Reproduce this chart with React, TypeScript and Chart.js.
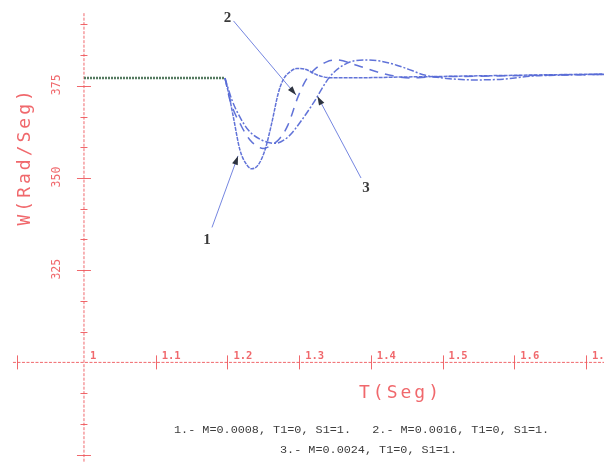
import React, { useEffect, useRef } from 'react';
import { Chart, registerables } from 'chart.js';

Chart.register(...registerables);

// ---- scale window (data units) ----
const X_MIN = 0.8829;
const X_MAX = 1.7251;
const Y_MIN = 272.99;
const Y_MAX = 398.27;
const AXIS_CROSS_T = 1;
const AXIS_CROSS_W = 300;

// ---- ticks ----
const xTickValues = [1.1, 1.2, 1.3, 1.4, 1.5, 1.6, 1.7];
const xTickLabels = ['1', '1.1', '1.2', '1.3', '1.4', '1.5', '1.6', '1.7'];
const xLabelValues = [1, 1.1, 1.2, 1.3, 1.4, 1.5, 1.6, 1.7];
const yMajorTicks = [275, 325, 350, 375];
const yMinorTicks = [283.33, 291.67, 308.33, 316.67, 333.33, 341.67, 358.33, 366.67, 383.33, 391.67];
const yLabelValues = [325, 350, 375];
const yTickLabels = ['325', '350', '375'];

// ---- series ----
const preT = [1.0, 1.1966];
const preW = [377.1, 377.1];

const t1 = [1.1966, 1.2022, 1.2082, 1.2175, 1.2269, 1.2338, 1.2431, 1.2524, 1.2617, 1.2709, 1.2779, 1.2873, 1.2966, 1.3082, 1.3245, 1.343, 1.38, 1.45, 1.55, 1.65, 1.725];
const w1 = [377.1, 372.5, 366.6, 357.6, 353.6, 352.5, 353.6, 357.6, 364.8, 373.0, 376.7, 378.8, 379.7, 379.5, 378.0, 377.2, 377.2, 377.4, 377.7, 378.0, 378.2];

const t2 = [1.1966, 1.2036, 1.2199, 1.2315, 1.2426, 1.2496, 1.2594, 1.2733, 1.2845, 1.2984, 1.3096, 1.3207, 1.3384, 1.3524, 1.3802, 1.4081, 1.4309, 1.4546, 1.4825, 1.55, 1.65, 1.725];
const w2 = [377.1, 371.1, 363.9, 360.3, 358.5, 358.0, 358.7, 360.8, 364.4, 372.0, 376.6, 379.3, 381.5, 382.0, 380.6, 378.8, 377.7, 377.1, 377.4, 377.6, 377.9, 378.1];

const t3 = [1.1966, 1.2064, 1.2175, 1.2291, 1.2478, 1.2663, 1.2849, 1.3036, 1.3197, 1.343, 1.3663, 1.3895, 1.4128, 1.436, 1.4592, 1.4731, 1.5058, 1.5452, 1.5843, 1.6219, 1.6637, 1.7251];
const w3 = [377.1, 371.1, 366.5, 363.0, 360.3, 359.4, 361.2, 365.7, 370.3, 377.5, 381.1, 382.0, 381.7, 380.6, 379.0, 378.0, 377.0, 376.6, 376.8, 377.6, 377.9, 378.1];

// ---- annotations (data coordinates) ----
const calloutLabels = ['1', '2', '3'];
const calloutTextAt = [[1.1715, 333.2], [1.2002, 393.4], [1.3933, 347.3]];
const calloutFrom = [[1.1785, 336.6], [1.2085, 392.6], [1.3863, 350.0]];
const calloutTip = [[1.2148, 356.0], [1.2957, 372.5], [1.3255, 372.2]];

const legendLine1 = '1.- M=0.0008, T1=0, S1=1.   2.- M=0.0016, T1=0, S1=1.';
const legendLine2 = '3.- M=0.0024, T1=0, S1=1.';
const xTitle = 'T(Seg)';
const yTitle = 'W(Rad/Seg)';

const RED = 'rgba(238, 88, 92, 0.9)';
const BLUE = 'rgba(88, 108, 214, 0.95)';

const zip = (t: number[], w: number[]) => t.map((v, i) => ({ x: v, y: w[i] }));

const decorPlugin = {
  id: 'decor',
  beforeDatasetsDraw(chart: any) {
    const { ctx } = chart;
    const xs = chart.scales.x;
    const ys = chart.scales.y;
    const ax = xs.getPixelForValue(AXIS_CROSS_T);
    const ay = ys.getPixelForValue(AXIS_CROSS_W);
    ctx.save();
    ctx.strokeStyle = RED;
    ctx.lineWidth = 1;
    ctx.setLineDash([3, 1.5]);
    ctx.beginPath();
    ctx.moveTo(xs.getPixelForValue(0.901), ay);
    ctx.lineTo(xs.getPixelForValue(X_MAX), ay);
    ctx.stroke();
    ctx.beginPath();
    ctx.moveTo(ax, ys.getPixelForValue(394.7));
    ctx.lineTo(ax, ys.getPixelForValue(Y_MIN));
    ctx.stroke();
    ctx.setLineDash([]);
    [0.9066, ...xTickValues].forEach((v) => {
      const px = Math.round(xs.getPixelForValue(v)) + 0.5;
      ctx.beginPath();
      ctx.moveTo(px, ay - 7);
      ctx.lineTo(px, ay + 7);
      ctx.stroke();
    });
    yMajorTicks.forEach((v) => {
      const py = Math.round(ys.getPixelForValue(v)) + 0.5;
      ctx.beginPath();
      ctx.moveTo(ax - 7, py);
      ctx.lineTo(ax + 7, py);
      ctx.stroke();
    });
    yMinorTicks.forEach((v) => {
      const py = Math.round(ys.getPixelForValue(v)) + 0.5;
      ctx.beginPath();
      ctx.moveTo(ax - 3.5, py);
      ctx.lineTo(ax + 3.5, py);
      ctx.stroke();
    });
    ctx.fillStyle = RED;
    ctx.font = 'bold 10.5px "DejaVu Sans Mono"';
    ctx.textAlign = 'left';
    ctx.textBaseline = 'alphabetic';
    xLabelValues.forEach((v, i) => {
      ctx.fillText(xTickLabels[i], xs.getPixelForValue(v) + 6, ay - 3);
    });
    ctx.font = '11.5px "DejaVu Sans Mono"';
    ctx.textAlign = 'center';
    ctx.textBaseline = 'middle';
    yLabelValues.forEach((v, i) => {
      ctx.save();
      ctx.translate(ax - 27, ys.getPixelForValue(v) - 1);
      ctx.rotate(-Math.PI / 2);
      ctx.fillText(yTickLabels[i], 0, 0);
      ctx.restore();
    });
    ctx.font = '18px "DejaVu Sans Mono"';
    (ctx as any).letterSpacing = '3px';
    ctx.fillText(xTitle, xs.getPixelForValue(1.44) + 1, ay + 31);
    ctx.save();
    ctx.translate(ax - 59, ys.getPixelForValue(355.6));
    ctx.rotate(-Math.PI / 2);
    ctx.fillText(yTitle, 1, 0);
    ctx.restore();
    (ctx as any).letterSpacing = '0px';
    ctx.restore();
  },
  afterDatasetsDraw(chart: any) {
    const { ctx } = chart;
    const xs = chart.scales.x;
    const ys = chart.scales.y;
    ctx.save();
    calloutLabels.forEach((lab, i) => {
      const fx = xs.getPixelForValue(calloutFrom[i][0]);
      const fy = ys.getPixelForValue(calloutFrom[i][1]);
      const tx = xs.getPixelForValue(calloutTip[i][0]);
      const ty = ys.getPixelForValue(calloutTip[i][1]);
      ctx.strokeStyle = 'rgba(110, 128, 222, 0.95)';
      ctx.lineWidth = 1;
      ctx.beginPath();
      ctx.moveTo(fx, fy);
      ctx.lineTo(tx, ty);
      ctx.stroke();
      const ang = Math.atan2(ty - fy, tx - fx);
      const len = 9;
      const half = 3;
      ctx.fillStyle = '#2e3440';
      ctx.beginPath();
      ctx.moveTo(tx, ty);
      ctx.lineTo(tx - len * Math.cos(ang) + half * Math.sin(ang), ty - len * Math.sin(ang) - half * Math.cos(ang));
      ctx.lineTo(tx - len * Math.cos(ang) - half * Math.sin(ang), ty - len * Math.sin(ang) + half * Math.cos(ang));
      ctx.closePath();
      ctx.fill();
      ctx.fillStyle = '#3a3a3a';
      ctx.font = 'bold 15px "Liberation Serif"';
      ctx.textAlign = 'center';
      ctx.textBaseline = 'middle';
      ctx.fillText(lab, xs.getPixelForValue(calloutTextAt[i][0]), ys.getPixelForValue(calloutTextAt[i][1]));
    });
    ctx.fillStyle = '#3c3c3c';
    ctx.font = '11.8px "Liberation Mono"';
    ctx.textAlign = 'left';
    ctx.textBaseline = 'middle';
    ctx.fillText(legendLine1, 174, 430);
    ctx.fillText(legendLine2, 280, 450);
    ctx.restore();
  },
};

export default function App() {
  const ref = useRef<HTMLCanvasElement | null>(null);
  useEffect(() => {
    if (!ref.current) return;
    const common = { pointRadius: 0, fill: false, cubicInterpolationMode: 'monotone' as const };
    const chart = new Chart(ref.current, {
      type: 'line',
      data: {
        datasets: [
          { label: 'pre', data: zip(preT, preW), borderColor: '#557a60', borderWidth: 2.4, borderDash: [2, 1], ...common },
          { label: '1', data: zip(t1, w1), borderColor: BLUE, borderWidth: 1.5, borderDash: [4, 1], ...common },
          { label: '2', data: zip(t2, w2), borderColor: BLUE, borderWidth: 1.5, borderDash: [9, 7], ...common },
          { label: '3', data: zip(t3, w3), borderColor: BLUE, borderWidth: 1.5, borderDash: [7, 2, 2, 2], ...common },
        ],
      },
      options: {
        animation: false,
        responsive: false,
        devicePixelRatio: 1,
        layout: { padding: 0 },
        plugins: { legend: { display: false }, tooltip: { enabled: false } },
        scales: {
          x: { type: 'linear', min: X_MIN, max: X_MAX, display: false },
          y: { type: 'linear', min: Y_MIN, max: Y_MAX, display: false },
        },
      },
      plugins: [decorPlugin],
    });
    return () => chart.destroy();
  }, []);
  return (
    <div style={{ position: 'absolute', left: 0, top: 0, width: 604, height: 462, background: '#fff' }}>
      <canvas ref={ref} width={604} height={462} />
    </div>
  );
}
